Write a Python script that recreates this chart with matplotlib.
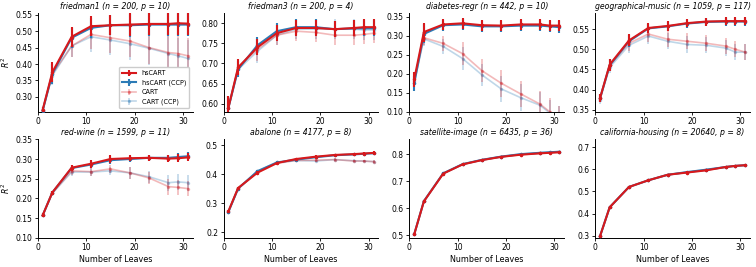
import matplotlib
matplotlib.use('Agg')
from matplotlib import pyplot as plt
from matplotlib.ticker import MultipleLocator
import numpy as np

# number of leaves
leaves = [1, 3, 7, 11, 15, 19, 23, 27, 29, 31]

datasets = ['friedman1', 'friedman3', 'diabetes-regr', 'geographical-music',
            'red-wine', 'abalone', 'satellite-image', 'california-housing']
sizes = ['(n = 200, p = 10)', '(n = 200, p = 4)', '(n = 442, p = 10)',
         '(n = 1059, p = 117)', '(n = 1599, p = 11)', '(n = 4177, p = 8)',
         '(n = 6435, p = 36)', '(n = 20640, p = 8)']

hs_cart = {
    'friedman1': [0.26, 0.375, 0.483, 0.515, 0.518, 0.52, 0.522, 0.522, 0.524, 0.523],
    'friedman3': [0.59, 0.69, 0.74, 0.775, 0.788, 0.788, 0.785, 0.788, 0.79, 0.79],
    'diabetes-regr': [0.185, 0.31, 0.33, 0.333, 0.328, 0.327, 0.33, 0.33, 0.327, 0.327],
    'geographical-music': [0.378, 0.462, 0.522, 0.553, 0.558, 0.565, 0.569, 0.57, 0.57, 0.57],
    'red-wine': [0.157, 0.215, 0.278, 0.288, 0.3, 0.302, 0.303, 0.301, 0.302, 0.304],
    'abalone': [0.272, 0.352, 0.405, 0.438, 0.452, 0.46, 0.466, 0.469, 0.471, 0.473],
    'satellite-image': [0.503, 0.625, 0.728, 0.762, 0.778, 0.79, 0.798, 0.803, 0.805, 0.807],
    'california-housing': [0.297, 0.428, 0.52, 0.55, 0.575, 0.585, 0.595, 0.61, 0.615, 0.618],
}
hs_cart_ccp = {
    'friedman1': [0.258, 0.37, 0.48, 0.51, 0.518, 0.518, 0.52, 0.52, 0.52, 0.52],
    'friedman3': [0.59, 0.685, 0.745, 0.78, 0.79, 0.79, 0.785, 0.787, 0.787, 0.787],
    'diabetes-regr': [0.175, 0.305, 0.328, 0.33, 0.325, 0.325, 0.327, 0.327, 0.325, 0.323],
    'geographical-music': [0.378, 0.46, 0.52, 0.552, 0.557, 0.564, 0.568, 0.569, 0.569, 0.569],
    'red-wine': [0.157, 0.215, 0.277, 0.286, 0.297, 0.3, 0.303, 0.303, 0.305, 0.307],
    'abalone': [0.27, 0.35, 0.41, 0.44, 0.45, 0.458, 0.465, 0.468, 0.47, 0.472],
    'satellite-image': [0.503, 0.626, 0.729, 0.763, 0.779, 0.791, 0.8, 0.805, 0.807, 0.809],
    'california-housing': [0.297, 0.428, 0.52, 0.55, 0.575, 0.587, 0.598, 0.61, 0.615, 0.618],
}
cart = {
    'friedman1': [0.26, 0.37, 0.455, 0.49, 0.48, 0.47, 0.45, 0.435, 0.432, 0.425],
    'friedman3': [0.59, 0.69, 0.735, 0.77, 0.78, 0.777, 0.77, 0.77, 0.772, 0.775],
    'diabetes-regr': [0.18, 0.295, 0.28, 0.253, 0.208, 0.175, 0.147, 0.12, 0.10, 0.08],
    'geographical-music': [0.378, 0.46, 0.515, 0.538, 0.525, 0.52, 0.515, 0.508, 0.5, 0.493],
    'red-wine': [0.157, 0.213, 0.27, 0.268, 0.275, 0.265, 0.252, 0.23, 0.228, 0.225],
    'abalone': [0.27, 0.35, 0.405, 0.437, 0.447, 0.448, 0.45, 0.445, 0.445, 0.443],
    'satellite-image': [0.503, 0.625, 0.728, 0.762, 0.778, 0.79, 0.798, 0.803, 0.805, 0.807],
    'california-housing': [0.297, 0.428, 0.52, 0.55, 0.575, 0.585, 0.595, 0.61, 0.615, 0.618],
}
cart_ccp = {
    'friedman1': [0.258, 0.365, 0.455, 0.483, 0.473, 0.462, 0.448, 0.432, 0.425, 0.417],
    'friedman3': [0.588, 0.685, 0.73, 0.77, 0.785, 0.785, 0.785, 0.785, 0.783, 0.783],
    'diabetes-regr': [0.175, 0.292, 0.272, 0.24, 0.197, 0.16, 0.137, 0.117, 0.097, 0.08],
    'geographical-music': [0.375, 0.455, 0.51, 0.533, 0.52, 0.512, 0.51, 0.503, 0.493, 0.493],
    'red-wine': [0.157, 0.213, 0.267, 0.267, 0.27, 0.265, 0.255, 0.24, 0.242, 0.24],
    'abalone': [0.27, 0.35, 0.41, 0.44, 0.447, 0.445, 0.45, 0.446, 0.445, 0.443],
    'satellite-image': [0.503, 0.626, 0.729, 0.763, 0.779, 0.791, 0.8, 0.805, 0.807, 0.809],
    'california-housing': [0.297, 0.428, 0.52, 0.55, 0.575, 0.587, 0.598, 0.61, 0.615, 0.618],
}

# standard errors (hierarchical shrinkage / plain cart)
hs_err = {
    'friedman1': [0.01, 0.03, 0.03, 0.03, 0.03, 0.035, 0.035, 0.035, 0.035, 0.035],
    'friedman3': [0.03, 0.02, 0.02, 0.02, 0.02, 0.02, 0.02, 0.02, 0.02, 0.02],
    'diabetes-regr': [0.02, 0.025, 0.015, 0.015, 0.015, 0.015, 0.015, 0.015, 0.015, 0.015],
    'geographical-music': [0.01, 0.015, 0.015, 0.012, 0.012, 0.01, 0.01, 0.01, 0.01, 0.01],
    'red-wine': [0.005, 0.005, 0.008, 0.01, 0.01, 0.008, 0.008, 0.008, 0.01, 0.01],
    'abalone': [0.005, 0.005, 0.005, 0.005, 0.005, 0.005, 0.005, 0.005, 0.005, 0.005],
    'satellite-image': [0.004, 0.004, 0.004, 0.004, 0.004, 0.004, 0.004, 0.004, 0.004, 0.004],
    'california-housing': [0.005, 0.005, 0.005, 0.005, 0.005, 0.005, 0.005, 0.005, 0.005, 0.005],
}
cart_err = {
    'friedman1': [0.01, 0.03, 0.035, 0.045, 0.045, 0.05, 0.05, 0.055, 0.055, 0.055],
    'friedman3': [0.03, 0.02, 0.03, 0.025, 0.025, 0.025, 0.025, 0.025, 0.025, 0.025],
    'diabetes-regr': [0.02, 0.02, 0.02, 0.03, 0.03, 0.035, 0.035, 0.035, 0.035, 0.035],
    'geographical-music': [0.01, 0.015, 0.02, 0.02, 0.02, 0.02, 0.02, 0.02, 0.02, 0.02],
    'red-wine': [0.005, 0.005, 0.01, 0.01, 0.01, 0.015, 0.015, 0.02, 0.02, 0.02],
    'abalone': [0.005, 0.005, 0.005, 0.005, 0.005, 0.005, 0.005, 0.005, 0.005, 0.005],
    'satellite-image': [0.004, 0.004, 0.004, 0.004, 0.004, 0.004, 0.004, 0.004, 0.004, 0.004],
    'california-housing': [0.005, 0.005, 0.005, 0.005, 0.005, 0.005, 0.005, 0.005, 0.005, 0.005],
}

ylims = {
    'friedman1': (0.255, 0.555), 'friedman3': (0.58, 0.825),
    'diabetes-regr': (0.10, 0.36), 'geographical-music': (0.345, 0.59),
    'red-wine': (0.10, 0.35), 'abalone': (0.18, 0.52),
    'satellite-image': (0.49, 0.855), 'california-housing': (0.29, 0.735),
}
ystep = {
    'friedman1': 0.05, 'friedman3': 0.05, 'diabetes-regr': 0.05,
    'geographical-music': 0.05, 'red-wine': 0.05, 'abalone': 0.1,
    'satellite-image': 0.1, 'california-housing': 0.1,
}

red = '#d7191c'
blue = '#2c7bb6'

plt.rcParams['font.family'] = 'DejaVu Sans'
fig, axes = plt.subplots(2, 4, figsize=(7.56, 2.67), dpi=100)
fig.subplots_adjust(left=0.05, right=0.992, top=0.951, bottom=0.109,
                    wspace=0.2, hspace=0.28)

for i, (name, size) in enumerate(zip(datasets, sizes)):
    ax = axes.flat[i]
    # light curves first so hsCART sits on top
    ax.errorbar(leaves, cart_ccp[name], yerr=cart_err[name], color=blue, alpha=0.3,
                lw=1.2, elinewidth=1.2, marker='.', ms=3, label='CART (CCP)', zorder=1)
    ax.errorbar(leaves, cart[name], yerr=cart_err[name], color=red, alpha=0.3,
                lw=1.2, elinewidth=1.2, marker='.', ms=3, label='CART', zorder=2)
    ax.errorbar(leaves, hs_cart_ccp[name], yerr=hs_err[name], color=blue,
                lw=1.5, elinewidth=1.5, marker='.', ms=3, label='hsCART (CCP)', zorder=3)
    ax.errorbar(leaves, hs_cart[name], yerr=hs_err[name], color=red,
                lw=1.5, elinewidth=1.5, marker='.', ms=3, label='hsCART', zorder=4)

    ax.set_title(f'{name} {size}', fontsize=5.6, style='italic', pad=3)
    ax.set_xlim(0, 32)
    ax.set_xticks([0, 10, 20, 30])
    ax.set_ylim(*ylims[name])
    ax.yaxis.set_major_locator(MultipleLocator(ystep[name]))
    if ystep[name] < 0.1:
        ax.yaxis.set_major_formatter('{x:.2f}')
    else:
        ax.yaxis.set_major_formatter('{x:.1f}')
    ax.tick_params(labelsize=5.5, length=2.5, width=0.6, pad=1.5)
    for s in ['top', 'right']:
        ax.spines[s].set_visible(False)
    for s in ['left', 'bottom']:
        ax.spines[s].set_linewidth(0.7)
    if i % 4 == 0:
        ax.set_ylabel('$R^2$', fontsize=5.6, labelpad=2)
    if i >= 4:
        ax.set_xlabel('Number of Leaves', fontsize=5.8, labelpad=1.5)

# legend only in the first panel, order as in the original
handles, labels = axes.flat[0].get_legend_handles_labels()
order = [3, 2, 1, 0]
axes.flat[0].legend([handles[k] for k in order], [labels[k] for k in order],
                    loc='lower right', fontsize=4.7, frameon=True, framealpha=1,
                    edgecolor='0.8', borderpad=0.5, handlelength=2.2)

fig.savefig('out.png', dpi=100)
